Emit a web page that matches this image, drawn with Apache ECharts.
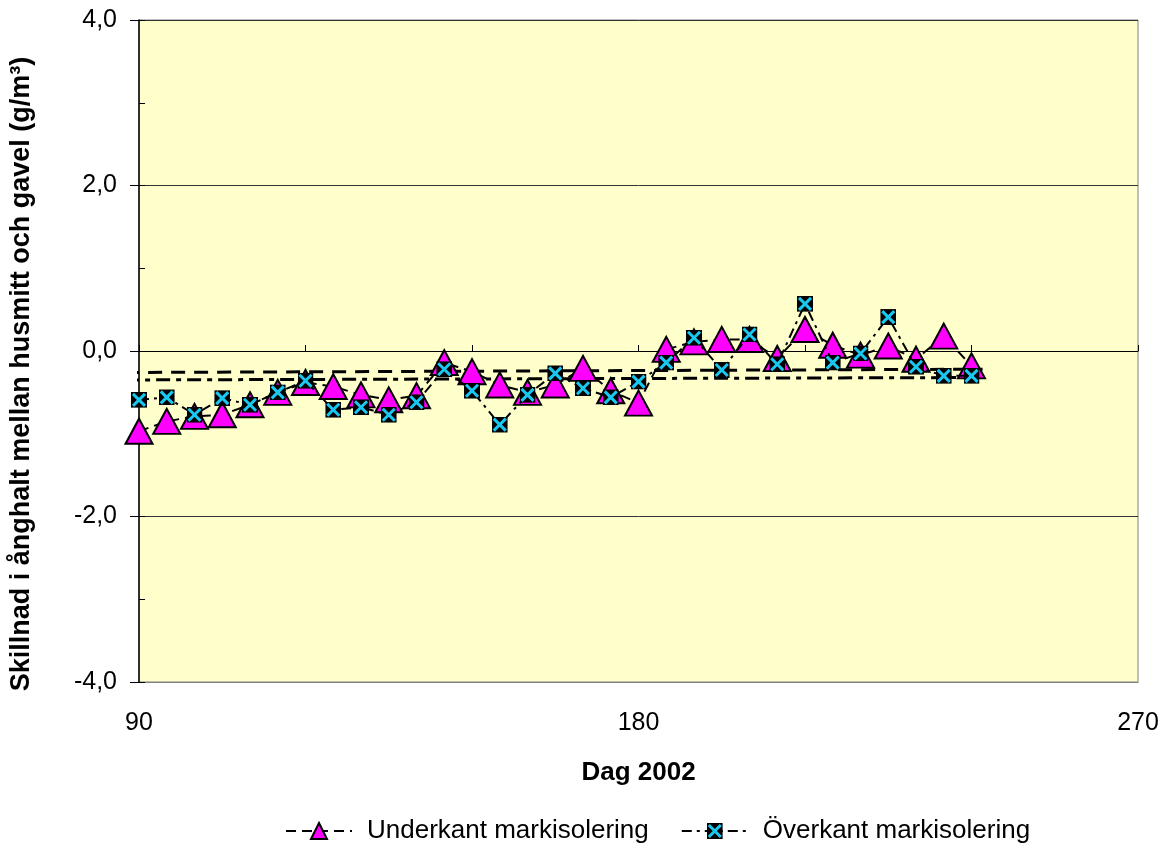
<!DOCTYPE html>
<html>
<head>
<meta charset="utf-8">
<script src="https://cdn.jsdelivr.net/npm/echarts@6/dist/echarts.min.js"></script>
<style>
html,body{margin:0;padding:0;background:#fff;}
#chart{width:1170px;height:848px;}
</style>
</head>
<body>
<div id="chart"></div>
<script>
// Day of year 2002
const days = [90,95,100,105,110,115,120,125,130,135,140,145,150,155,160,165,170,175,180,185,190,195,200,205,210,215,220,225,230,235,240];
// Underkant markisolering
const underkant = [-0.97,-0.85,-0.79,-0.77,-0.65,-0.50,-0.38,-0.43,-0.53,-0.59,-0.54,-0.14,-0.25,-0.41,-0.50,-0.41,-0.21,-0.48,-0.63,0.02,0.11,0.14,0.14,-0.09,0.26,0.07,-0.05,0.06,-0.10,0.18,-0.18];
// Överkant markisolering
const overkant = [-0.59,-0.56,-0.77,-0.57,-0.65,-0.50,-0.36,-0.71,-0.68,-0.77,-0.62,-0.22,-0.48,-0.89,-0.53,-0.27,-0.45,-0.56,-0.37,-0.14,0.16,-0.23,0.20,-0.16,0.57,-0.14,-0.03,0.41,-0.19,-0.30,-0.30];
// Straight reference lines (start/end)
const trendUnderX = [87.5, 242];
const trendUnderY = [-0.26, -0.22];
const trendOverX = [87.5, 242];
const trendOverY = [-0.35, -0.32];
const yTicks = [-4, -2, 0, 2, 4];
const xTicks = [90, 180, 270];

const FONT = '"Liberation Sans", Arial, sans-serif';
const zip = (a, b) => a.map((v, i) => [v, b[i]]);

const xSym = 'image://data:image/svg+xml;utf8,' + encodeURIComponent(
  '<svg xmlns="http://www.w3.org/2000/svg" width="32" height="32" viewBox="0 0 32 32">' +
  '<rect x="0" y="0" width="32" height="32" fill="#000"/>' +
  '<path d="M4 4 L28 28 M28 4 L4 28" stroke="#19c8f0" stroke-width="6" fill="none"/></svg>');

const chart = echarts.init(document.getElementById('chart'), null, {renderer: 'canvas'});
chart.setOption({
  animation: false,
  backgroundColor: '#ffffff',
  grid: {left: 137, right: 32, top: 20, bottom: 166, show: true,
         backgroundColor: '#ffffcc', borderColor: '#808080', borderWidth: 1},
  xAxis: [{
    type: 'value', min: 90, max: 270, interval: 90, position: 'bottom',
    name: 'Dag 2002', nameLocation: 'middle', nameGap: 78,
    nameTextStyle: {fontFamily: FONT, fontSize: 26, fontWeight: 'bold', color: '#000'},
    axisLine: {onZero: false, lineStyle: {color: '#808080', width: 1}},
    axisTick: {show: false},
    axisLabel: {fontFamily: FONT, fontSize: 25, color: '#000', margin: 29},
    splitLine: {show: false}
  }, {
    type: 'value', min: 90, max: 270, interval: 30, position: 'bottom',
    axisLine: {show: true, onZero: true, lineStyle: {color: '#000', width: 1}},
    axisTick: {show: true, inside: true, length: 6, lineStyle: {color: '#000'}},
    axisLabel: {show: false},
    splitLine: {show: false}
  }],
  yAxis: [{
    type: 'value', min: -4, max: 4, interval: 2,
    name: 'Skillnad i ånghalt mellan husmitt och gavel (g/m³)',
    nameLocation: 'middle', nameGap: 104, nameRotate: 90,
    nameTextStyle: {fontFamily: FONT, fontSize: 27, fontWeight: 'bold', color: '#000',
                    padding: [0, 46, 0, 0]},
    axisLine: {show: true, onZero: false, lineStyle: {color: '#000', width: 1.5}},
    axisTick: {show: true, length: 9, lineStyle: {color: '#000'}},
    axisLabel: {fontFamily: FONT, fontSize: 25, color: '#000', margin: 22,
                formatter: v => v.toFixed(1).replace('.', ',')},
    splitLine: {show: true, lineStyle: {color: '#333', width: 1}}
  }, {
    type: 'value', min: -4, max: 4, interval: 1, position: 'left',
    axisLine: {show: false},
    axisTick: {show: true, inside: true, length: 6, lineStyle: {color: '#000'}},
    axisLabel: {show: false},
    splitLine: {show: false}
  }],
  legend: {
    top: 813, left: 280, itemWidth: 66, itemHeight: 20, itemGap: 32,
    textStyle: {fontFamily: FONT, fontSize: 26, color: '#000', padding: [0, 0, 0, 10]},
    data: ['Underkant markisolering', 'Överkant markisolering']
  },
  series: [{
    name: 'trendU', type: 'line', data: zip(trendUnderX, trendUnderY), symbol: 'none',
    clip: false, silent: true, z: 2,
    lineStyle: {color: '#000', width: 3, type: [14, 9]}
  }, {
    name: 'trendO', type: 'line', data: zip(trendOverX, trendOverY), symbol: 'none',
    clip: false, silent: true, z: 2,
    lineStyle: {color: '#000', width: 3, type: [14, 6, 5, 6]}
  }, {
    name: 'Underkant markisolering', type: 'line', data: zip(days, underkant), z: 3,
    symbol: 'triangle', symbolSize: [27, 25],
    itemStyle: {color: '#ff00ff', borderColor: '#000', borderWidth: 2},
    lineStyle: {color: '#000', width: 2, type: [10, 6]}
  }, {
    name: 'Överkant markisolering', type: 'line', data: zip(days, overkant), z: 4,
    symbol: xSym, symbolSize: 16,
    itemStyle: {color: '#000'},
    lineStyle: {color: '#000', width: 2, type: [10, 5, 3, 5]}
  }]
});
</script>
</body>
</html>
